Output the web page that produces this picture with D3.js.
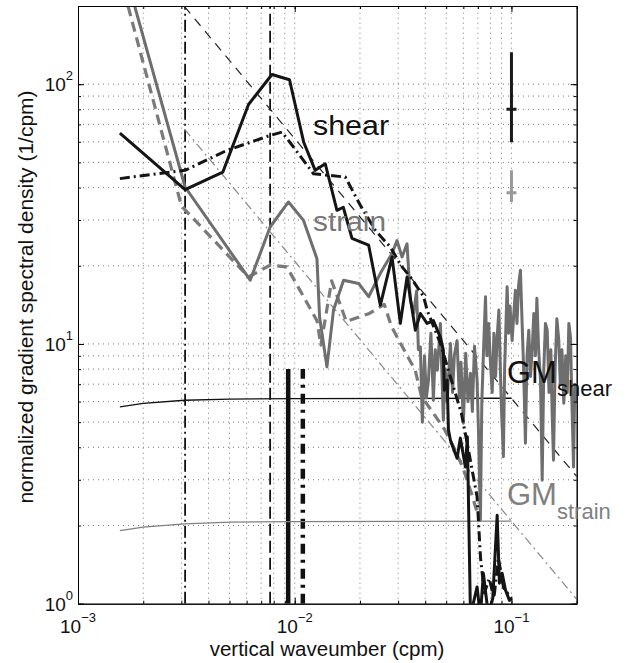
<!DOCTYPE html>
<html>
<head>
<meta charset="utf-8">
<script src="https://cdn.jsdelivr.net/npm/d3@7"></script>
<style>
  body { margin: 0; background: #fff; }
  svg { display: block; font-family: "Liberation Sans", Arial, Helvetica, sans-serif; }
</style>
</head>
<body>
<div id="chart"></div>
<script>
// observed shear spectrum [k (cpm), value]
const shearObs = [
  [1.56e-3, 64.8], [3.12e-3, 39.3], [4.66e-3, 45.9], [6.12e-3, 83.5], [7.85e-3, 109],
  [9.46e-3, 104], [1.10e-2, 59.8], [1.243e-2, 46.6], [1.383e-2, 49.4], [1.566e-2, 32.7],
  [1.675e-2, 33.6], [1.837e-2, 25.5], [2.193e-2, 24.0], [2.483e-2, 14.1], [2.812e-2, 21.6],
  [3.072e-2, 12.0], [3.298e-2, 18.1], [3.603e-2, 11.3], [3.8e-2, 13.1], [4.08e-2, 12.0],
  [4.363e-2, 12.3], [4.70e-2, 10.6], [4.85e-2, 9.46], [4.90e-2, 6.63], [5.05e-2, 7.25],
  [5.12e-2, 4.66], [5.23e-2, 4.26], [5.61e-2, 3.63], [5.81e-2, 4.34], [6.13e-2, 3.36],
  [6.26e-2, 4.39], [6.47e-2, 0.9], [6.94e-2, 1.16], [7.19e-2, 0.9], [7.42e-2, 1.31],
  [7.83e-2, 0.9], [8.2e-2, 1.05], [8.59e-2, 2.19], [8.8e-2, 1.2], [9.06e-2, 1.31],
  [9.38e-2, 1.13], [9.79e-2, 1.03], [0.1, 1.05]
];
// fitted shear spectrum (dash-dot)
const shearFit = [
  [1.56e-3, 43.3], [3.12e-3, 46.6], [4.86e-3, 55.6], [7.7e-3, 63.5], [8.73e-3, 65.4],
  [9.87e-3, 57.3], [1.221e-2, 45.2], [1.711e-2, 43.9], [2.007e-2, 34.2], [2.354e-2, 27.4],
  [2.761e-2, 23.6], [3.1e-2, 20.0], [3.417e-2, 18.1], [3.935e-2, 15.2], [4.08e-2, 13.5],
  [4.7e-2, 10.06], [5.1e-2, 8.0], [5.875e-2, 5.41], [6.3e-2, 4.0], [6.94e-2, 2.58],
  [7.2e-2, 1.5], [7.5e-2, 1.1], [7.9e-2, 1.25], [8.3e-2, 1.05], [8.7e-2, 1.5],
  [9.2e-2, 1.15], [0.1, 1.05]
];
// observed strain spectrum
const strainObs = [
  [1.56e-3, 320], [3.12e-3, 40.2], [6.23e-3, 17.6], [7.7e-3, 28.2], [9.36e-3, 35.2],
  [1.098e-2, 29.9], [1.266e-2, 21.3], [1.302e-2, 12.7], [1.408e-2, 8.16], [1.51e-2, 13.5],
  [1.68e-2, 17.6], [1.971e-2, 17.1], [2.193e-2, 15.2], [2.483e-2, 18.7], [2.812e-2, 22.3],
  [2.965e-2, 25.0], [3.127e-2, 21.6], [3.298e-2, 24.3], [3.417e-2, 14.7], [3.537e-2, 13.1],
  [3.65e-2, 16], [3.72e-2, 9.5], [3.8e-2, 9.73], [3.88e-2, 5.0], [3.97e-2, 9],
  [4.05e-2, 6.2], [4.14e-2, 7.25], [4.25e-2, 11], [4.363e-2, 6.07], [4.45e-2, 9.5],
  [4.55e-2, 7.92], [4.7e-2, 12], [4.85e-2, 5.09], [4.95e-2, 8], [5.05e-2, 6],
  [5.23e-2, 10.03], [5.35e-2, 6.5], [5.45e-2, 9], [5.61e-2, 10.3], [5.75e-2, 6.2],
  [5.85e-2, 8.5], [6.0e-2, 4.95], [6.15e-2, 9.2], [6.3e-2, 6.0], [6.47e-2, 7.71],
  [6.6e-2, 5.5], [6.75e-2, 9.8], [6.94e-2, 7.25], [7.05e-2, 4.5], [7.19e-2, 2.10],
  [7.3e-2, 6], [7.45e-2, 10], [7.59e-2, 15.2], [7.7e-2, 9], [7.85e-2, 12],
  [8.0e-2, 8.43], [8.15e-2, 6.5], [8.3e-2, 11], [8.45e-2, 7.5], [8.59e-2, 10.6],
  [8.75e-2, 13.5], [8.89e-2, 7.92], [9.0e-2, 5.5], [9.18e-2, 3.68], [9.3e-2, 8],
  [9.45e-2, 12.5], [9.55e-2, 16.6], [9.7e-2, 11], [9.85e-2, 14], [0.1007, 10.3],
  [0.1025, 13], [0.1043, 16.1], [0.106, 12], [0.108, 17], [0.110, 19.2],
  [0.112, 12], [0.1136, 8.43], [0.116, 4.15], [0.118, 9], [0.1202, 11.3],
  [0.1225, 7.5], [0.125, 10], [0.1268, 13.1], [0.129, 9], [0.131, 15],
  [0.1335, 9.5], [0.1361, 7.25], [0.1386, 2.99], [0.141, 8], [0.1435, 12],
  [0.1462, 11.3], [0.149, 6.5], [0.152, 9.5], [0.154, 5.5], [0.1563, 3.57],
  [0.159, 8], [0.162, 12.5], [0.1654, 10.3], [0.168, 7], [0.171, 9.5],
  [0.1744, 5.91], [0.178, 9], [0.181, 6.5], [0.184, 12], [0.1873, 10.6],
  [0.19, 6], [0.1934, 3.36], [0.196, 7], [0.2, 5.91]
];
// fitted strain spectrum (dashed)
const strainFit = [
  [1.56e-3, 262], [3.0e-3, 34], [6.12e-3, 18.1], [7.7e-3, 20.1], [9.2e-3, 19.8],
  [1.266e-2, 12.3], [1.32e-2, 9.9], [1.48e-2, 17.5], [1.73e-2, 12.2], [2.21e-2, 13.1],
  [2.59e-2, 14.2], [2.79e-2, 11.7], [3.6e-2, 7.9], [3.84e-2, 6.3], [4.3e-2, 5.5],
  [4.9e-2, 4.7], [5.5e-2, 3.9], [6.0e-2, 3.3], [6.5e-2, 2.7], [7.0e-2, 2.2]
];
// GM reference levels
const gmShear = [[1.56e-3, 5.72], [2e-3, 5.9], [3.1e-3, 6.07], [5e-3, 6.13], [1e-2, 6.16], [0.1, 6.18]];
const gmStrain = [[1.56e-3, 1.91], [2e-3, 1.97], [3.1e-3, 2.03], [5e-3, 2.06], [1e-2, 2.07], [0.1, 2.08]];
// k^-1 roll-off lines
const rollShear = [[3.1e-3, 199], [0.2, 3.09]];
const rollStrain = [[3.1e-3, 67.1], [0.2, 1.04]];
// vertical markers
const cutLines = [3.12e-3, 7.7e-3];
const barSolid = [9.33e-3, 1, 8];
const barDash = [1.09e-2, 1, 8];
// error bars at k = 0.1: [k, low, mid, high]
const errShear = [0.1, 59.8, 80, 132.8];
const errStrain = [0.1, 35.2, 38.2, 46.6];
const xMajor = [1e-3, 1e-2, 1e-1];
const yMajor = [1, 10, 100];

const W = 626, H = 663;
const L = 78, R = 576.7, T = 6, B = 603.7;

const svg = d3.select("#chart").append("svg").attr("width", W).attr("height", H);

const x = d3.scaleLog().domain([1e-3, 0.2]).range([L, R]);
const y = d3.scaleLog().domain([1, 200]).range([B, T]);

const xMinor = [];
[1e-3, 1e-2, 1e-1].forEach(d => { for (let i = 1; i <= 9; i++) { const v = d * i; if (v <= 0.2 + 1e-9) xMinor.push(v); } });
const yMinor = [];
[1, 10, 100].forEach(d => { for (let i = 1; i <= 9; i++) { const v = d * i; if (v <= 200 + 1e-9) yMinor.push(v); } });

// dotted grid
const grid = svg.append("g").attr("stroke", "#777").attr("stroke-width", 1).attr("stroke-dasharray", "1,4");
grid.selectAll(".gx").data(xMinor.filter(v => v > 1e-3 && v < 0.2)).enter().append("line")
  .attr("x1", d => x(d)).attr("x2", d => x(d)).attr("y1", B).attr("y2", T);
grid.selectAll(".gy").data(yMinor.filter(v => v > 1 && v < 200)).enter().append("line")
  .attr("x1", L).attr("x2", R).attr("y1", d => y(d)).attr("y2", d => y(d));

svg.append("clipPath").attr("id", "clip").append("rect")
  .attr("x", L).attr("y", T).attr("width", R - L).attr("height", B - T);
const plot = svg.append("g").attr("clip-path", "url(#clip)");

const line = d3.line().x(d => x(d[0])).y(d => y(d[1]));

function path(data, color, width, dash) {
  plot.append("path").datum(data).attr("d", line)
    .attr("fill", "none").attr("stroke", color).attr("stroke-width", width)
    .attr("stroke-linejoin", "round")
    .attr("stroke-dasharray", dash || null);
}

// vertical cut-off lines
plot.append("line").attr("x1", x(cutLines[0])).attr("x2", x(cutLines[0])).attr("y1", B).attr("y2", T)
  .attr("stroke", "#111").attr("stroke-width", 1.8).attr("stroke-dasharray", "12,4,2,4");
plot.append("line").attr("x1", x(cutLines[1])).attr("x2", x(cutLines[1])).attr("y1", B).attr("y2", T)
  .attr("stroke", "#111").attr("stroke-width", 1.8).attr("stroke-dasharray", "12,5");
plot.append("line").attr("x1", x(barSolid[0])).attr("x2", x(barSolid[0])).attr("y1", y(barSolid[1])).attr("y2", y(barSolid[2]))
  .attr("stroke", "#111").attr("stroke-width", 4.5);
plot.append("line").attr("x1", x(barDash[0])).attr("x2", x(barDash[0])).attr("y1", y(barDash[1])).attr("y2", y(barDash[2]))
  .attr("stroke", "#111").attr("stroke-width", 4.5).attr("stroke-dasharray", "10,6,3,6");

// GM levels and roll-off
path(gmShear, "#111", 1.3);
path(gmStrain, "#808080", 1.3);
path(rollShear, "#222", 1.2, "9,7");
path(rollStrain, "#888", 1.2, "9,4,2,4");

// spectra
path(strainFit, "#7a7a7a", 3.2, "10,6");
path(strainObs, "#6e6e6e", 3);
path(shearFit, "#151515", 3, "10,4,2,4");
path(shearObs, "#151515", 3);

// error bars
function errBar(e, color, w) {
  plot.append("line").attr("x1", x(e[0])).attr("x2", x(e[0])).attr("y1", y(e[1])).attr("y2", y(e[3]))
    .attr("stroke", color).attr("stroke-width", w);
  plot.append("line").attr("x1", x(e[0]) - 5).attr("x2", x(e[0]) + 5).attr("y1", y(e[2])).attr("y2", y(e[2]))
    .attr("stroke", color).attr("stroke-width", w);
}
errBar(errShear, "#1a1a1a", 3);
errBar(errStrain, "#999", 3);

// axes: ticks inward on all four sides
function ticks(axisFn, scale, vals, size, tr) {
  svg.append("g").attr("transform", tr)
    .call(axisFn(scale).tickValues(vals).tickSize(-size).tickSizeOuter(0).tickFormat(""))
    .call(g => g.select(".domain").attr("stroke", "#000"))
    .call(g => g.selectAll(".tick line").attr("stroke", "#000"));
}
ticks(d3.axisBottom, x, xMinor, 3, `translate(0,${B})`);
ticks(d3.axisBottom, x, xMajor, 6, `translate(0,${B})`);
ticks(d3.axisTop, x, xMinor, 3, `translate(0,${T})`);
ticks(d3.axisTop, x, xMajor, 6, `translate(0,${T})`);
ticks(d3.axisLeft, y, yMinor, 3, `translate(${L},0)`);
ticks(d3.axisLeft, y, yMajor, 6, `translate(${L},0)`);
ticks(d3.axisRight, y, yMinor, 3, `translate(${R},0)`);
ticks(d3.axisRight, y, yMajor, 6, `translate(${R},0)`);

function pow10(t, e) {
  t.append("tspan").text("10");
  t.append("tspan").attr("dy", -11).attr("font-size", 13).text(e < 0 ? "\u2212" + (-e) : String(e));
}
xMajor.forEach(v => {
  const t = svg.append("text").attr("x", x(v)).attr("y", 633).attr("text-anchor", "middle")
    .attr("font-size", 19).attr("fill", "#111");
  pow10(t, Math.round(Math.log10(v)));
});
yMajor.forEach(v => {
  const t = svg.append("text").attr("x", 73).attr("y", y(v) + 7).attr("text-anchor", "end")
    .attr("font-size", 19).attr("fill", "#111");
  pow10(t, Math.round(Math.log10(v)));
});

svg.append("text").attr("x", 327).attr("y", 656).attr("text-anchor", "middle")
  .attr("font-size", 20.5).attr("fill", "#111").text("vertical waveumber (cpm)");
svg.append("text").attr("transform", `translate(33,297) rotate(-90)`).attr("text-anchor", "middle")
  .attr("font-size", 21).attr("fill", "#111").text("normalized gradient spectral density (1/cpm)");

// series labels
svg.append("text").attr("x", 313).attr("y", 135).attr("font-size", 27).attr("fill", "#111")
  .attr("textLength", 76).attr("lengthAdjust", "spacingAndGlyphs").text("shear");
svg.append("text").attr("x", 313).attr("y", 231).attr("font-size", 27).attr("fill", "#777")
  .attr("textLength", 73).attr("lengthAdjust", "spacingAndGlyphs").text("strain");

const gm1 = svg.append("text").attr("x", 507).attr("y", 383).attr("font-size", 31).attr("fill", "#111");
gm1.append("tspan").text("GM");
gm1.append("tspan").attr("x", 557).attr("dy", 13).attr("font-size", 22).text("shear");
const gm2 = svg.append("text").attr("x", 507).attr("y", 505).attr("font-size", 31).attr("fill", "#808080");
gm2.append("tspan").text("GM");
gm2.append("tspan").attr("x", 557).attr("dy", 14).attr("font-size", 22).text("strain");
</script>
</body>
</html>
